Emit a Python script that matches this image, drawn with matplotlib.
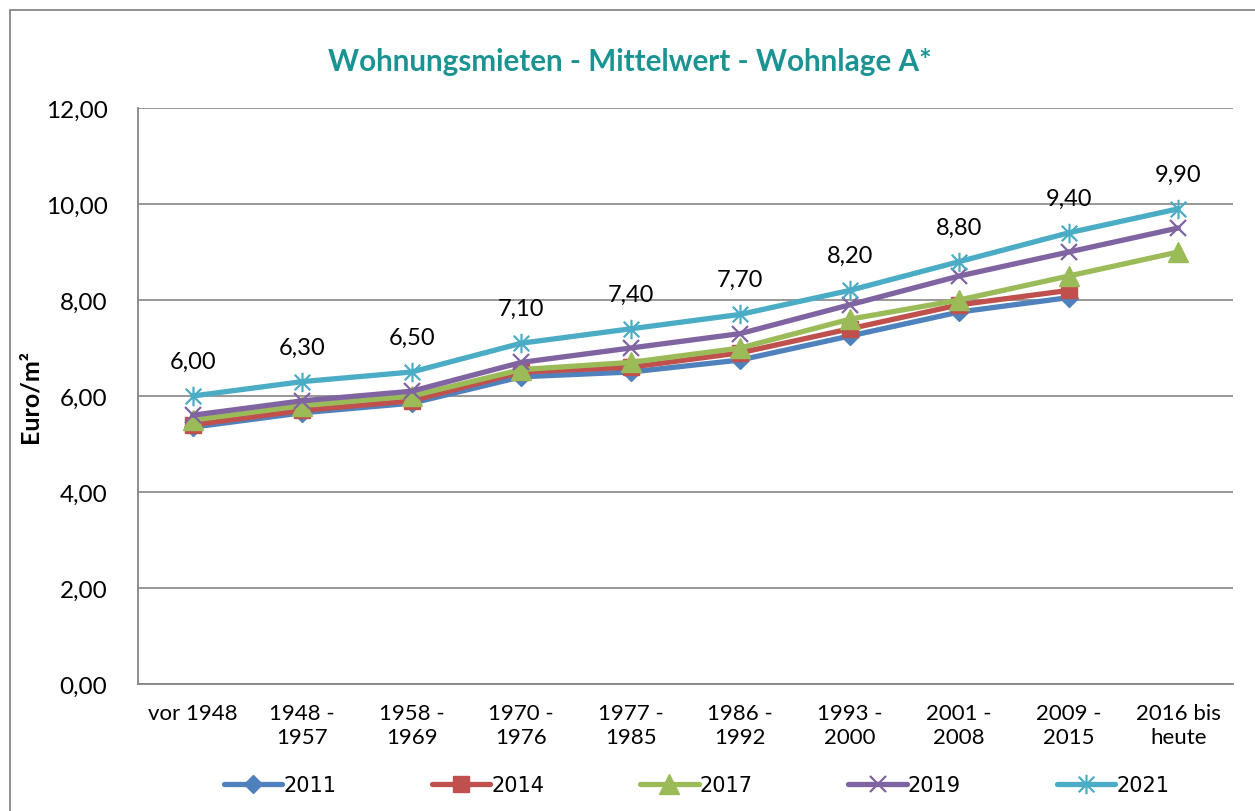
import matplotlib
matplotlib.use("Agg")
import matplotlib.pyplot as plt
from matplotlib.path import Path
from matplotlib.patches import Rectangle

categories = ["vor 1948", "1948 -\n1957", "1958 -\n1969", "1970 -\n1976", "1977 -\n1985",
              "1986 -\n1992", "1993 -\n2000", "2001 -\n2008", "2009 -\n2015", "2016 bis\nheute"]
s2011 = [5.35, 5.65, 5.85, 6.40, 6.50, 6.75, 7.25, 7.75, 8.05, None]
s2014 = [5.40, 5.70, 5.90, 6.50, 6.60, 6.90, 7.40, 7.90, 8.20, None]
s2017 = [5.50, 5.80, 6.00, 6.55, 6.70, 7.00, 7.60, 8.00, 8.50, 9.00]
s2019 = [5.60, 5.90, 6.10, 6.70, 7.00, 7.30, 7.90, 8.50, 9.00, 9.50]
s2021 = [6.00, 6.30, 6.50, 7.10, 7.40, 7.70, 8.20, 8.80, 9.40, 9.90]
series_names = ["2011", "2014", "2017", "2019", "2021"]
yticks = [0, 2, 4, 6, 8, 10, 12]

FONT = "Lato"
plt.rcParams["font.family"] = [FONT, "DejaVu Sans"]

fig = plt.figure(figsize=(12.55, 8.12), dpi=100)
ax = fig.add_axes([138/1255, 1-685/812, (1233-138)/1255, (685-109)/812])

# outer chart border
fig.patches.append(Rectangle((10/1255, -0.2), 2, 1.2 - 11/812, transform=fig.transFigure,
                             fill=False, edgecolor="#888888", lw=1.3))

star = Path([(0, -1), (0, 1), (-0.8, -0.8), (0.8, 0.8), (-0.8, 0.8), (0.8, -0.8)],
            [Path.MOVETO, Path.LINETO, Path.MOVETO, Path.LINETO, Path.MOVETO, Path.LINETO])

styles = [
    ("#4F81BD", "D", 9, True),
    ("#C0504D", "s", 11, True),
    ("#9BBB59", "^", 14, True),
    ("#8064A2", "x", 12, False),
    ("#4BACC6", star, 14, False),
]
data = [s2011, s2014, s2017, s2019, s2021]
x = list(range(len(categories)))
for name, vals, (col, mk, ms, filled) in zip(series_names, data, styles):
    xs = [xi for xi, v in zip(x, vals) if v is not None]
    ys = [v for v in vals if v is not None]
    if filled:
        ax.plot(xs, ys, color=col, lw=3.8, marker=mk, ms=ms, mfc=col, mec=col,
                label=name, solid_capstyle="round", zorder=3)
    else:
        ax.plot(xs, ys, color=col, lw=3.8, marker=mk, ms=ms, mfc="none", mec=col, mew=1.6,
                label=name, solid_capstyle="round", zorder=3)

for xi, v in zip(x, s2021):
    ax.annotate(f"{v:.2f}".replace(".", ","), (xi, v), xytext=(0, 25), textcoords="offset points",
                ha="center", va="center", fontsize=17, color="black")

ax.set_xlim(-0.5, len(categories) - 0.5)
ax.set_ylim(0, 12)
ax.set_yticks(yticks)
ax.set_yticklabels([f"{t:.2f}".replace(".", ",") for t in yticks], fontsize=17.5)
ax.set_xticks(x)
ax.set_xticklabels(categories, fontsize=16, linespacing=1.25)
ax.tick_params(axis="y", length=0, pad=22)
ax.tick_params(axis="x", length=0, pad=14)
ax.grid(axis="y", color="#868686", lw=1.2)
ax.set_axisbelow(True)
for s in ["top", "right"]:
    ax.spines[s].set_visible(False)
for s in ["left", "bottom"]:
    ax.spines[s].set_color("#868686")
    ax.spines[s].set_linewidth(1.3)

ax.set_ylabel("Euro/m²", fontsize=18, fontweight="bold")
ax.yaxis.set_label_coords(-0.088, 0.5)

fig.text(630/1255, 1-62/812, "Wohnungsmieten - Mittelwert - Wohnlage A*", ha="center", va="center",
         fontsize=21.3, fontweight="bold", color="#1C9393")

leg = fig.legend(loc="center", bbox_to_anchor=(0.555, 1-786/812), ncol=5, frameon=False,
                 prop={"family": ["Liberation Sans Narrow", "DejaVu Sans"], "size": 15},
                 handlelength=2.8, handletextpad=0.05, columnspacing=4.6)

fig.savefig("out.png", dpi=100)
